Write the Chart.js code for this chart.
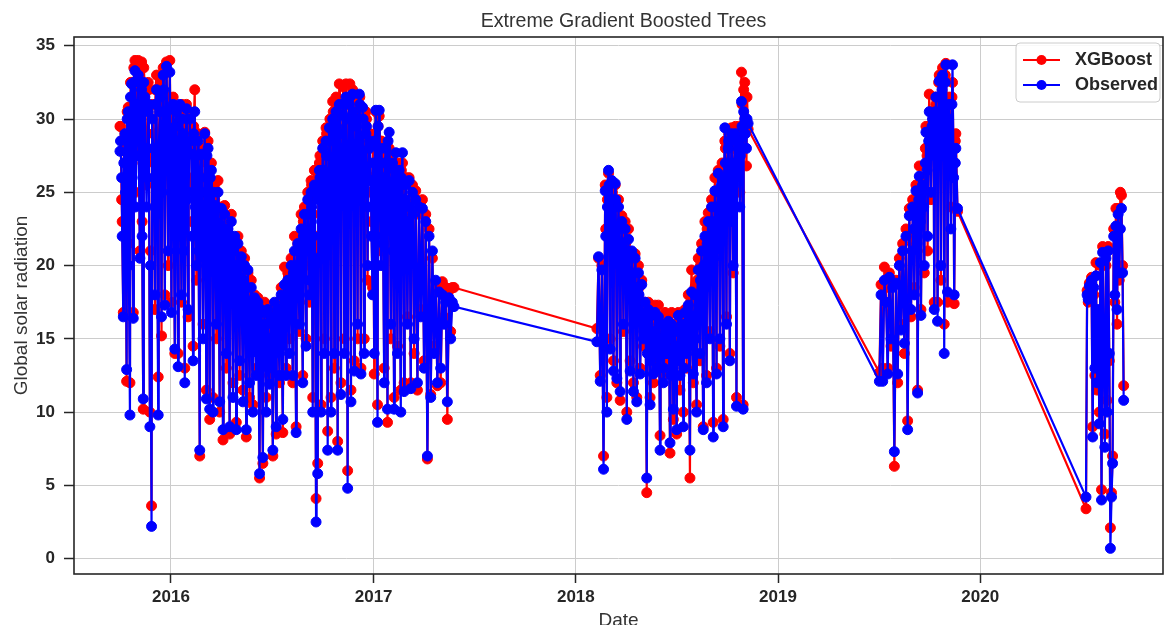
<!DOCTYPE html>
<html>
<head>
<meta charset="utf-8">
<script src="https://cdn.jsdelivr.net/npm/chart.js@4.4.1/dist/chart.umd.min.js"></script>
<style>
  html, body { margin: 0; padding: 0; background: #ffffff; overflow: hidden; }
  canvas { display: block; }
</style>
</head>
<body>
<canvas id="chart" width="1165" height="625"></canvas>
<script>
// Daily global solar radiation: observed values and XGBoost predictions
const chartTitle = 'Extreme Gradient Boosted Trees';
const xTitle = 'Date';
const yTitle = 'Global solar radiation';
const seriesLabels = ['XGBoost', 'Observed'];
const yearTicks = [2016, 2017, 2018, 2019, 2020];
const yTicks = [0, 5, 10, 15, 20, 25, 30, 35];
const xRange = ['2015-07-10', '2020-11-26'];
const yRange = [-1.05, 35.6];

// First set of readings
const dates1 = [
  '2015-10-01','2015-10-04','2015-10-07','2015-10-10','2015-10-13','2015-10-16','2015-10-19','2015-10-22','2015-10-25','2015-10-28','2015-10-31',
  '2015-11-03','2015-11-06','2015-11-09','2015-11-12','2015-11-15','2015-11-18','2015-11-21','2015-11-24','2015-11-27','2015-11-30',
  '2015-12-03','2015-12-06','2015-12-09','2015-12-12','2015-12-15','2015-12-18','2015-12-21','2015-12-24','2015-12-27','2015-12-30',
  '2016-01-02','2016-01-05','2016-01-08','2016-01-11','2016-01-14','2016-01-17','2016-01-20','2016-01-23','2016-01-26','2016-01-29',
  '2016-02-01','2016-02-04','2016-02-07','2016-02-10','2016-02-13','2016-02-16','2016-02-19','2016-02-22','2016-02-25','2016-02-28',
  '2016-03-02','2016-03-05','2016-03-08','2016-03-11','2016-03-14','2016-03-17','2016-03-20','2016-03-23','2016-03-26','2016-03-29',
  '2016-04-01','2016-04-04','2016-04-07','2016-04-10','2016-04-13','2016-04-16','2016-04-19','2016-04-22','2016-04-25','2016-04-28',
  '2016-05-01','2016-05-04','2016-05-07','2016-05-10','2016-05-13','2016-05-16','2016-05-19','2016-05-22','2016-05-25','2016-05-28','2016-05-31',
  '2016-06-03','2016-06-06','2016-06-09','2016-06-12','2016-06-15','2016-06-18','2016-06-21','2016-06-24','2016-06-27','2016-06-30',
  '2016-07-03','2016-07-06','2016-07-09','2016-07-12','2016-07-15','2016-07-18','2016-07-21','2016-07-24','2016-07-27','2016-07-30',
  '2016-08-02','2016-08-05','2016-08-08','2016-08-11','2016-08-14','2016-08-17','2016-08-20','2016-08-23','2016-08-26','2016-08-29',
  '2016-09-01','2016-09-04','2016-09-07','2016-09-10','2016-09-13','2016-09-16','2016-09-19','2016-09-22','2016-09-25','2016-09-28',
  '2016-10-01','2016-10-04','2016-10-07','2016-10-10','2016-10-13','2016-10-16','2016-10-19','2016-10-22','2016-10-25','2016-10-28','2016-10-31',
  '2016-11-03','2016-11-06','2016-11-09','2016-11-12','2016-11-15','2016-11-18','2016-11-21','2016-11-24','2016-11-27','2016-11-30',
  '2016-12-03','2016-12-06','2016-12-09','2016-12-12','2016-12-15','2016-12-18','2016-12-21','2016-12-24','2016-12-27','2016-12-30',
  '2017-01-02','2017-01-05','2017-01-08','2017-01-11','2017-01-14','2017-01-17','2017-01-20','2017-01-23','2017-01-26','2017-01-29',
  '2017-02-01','2017-02-04','2017-02-07','2017-02-10','2017-02-13','2017-02-16','2017-02-19','2017-02-22','2017-02-25','2017-02-28',
  '2017-03-03','2017-03-06','2017-03-09','2017-03-12','2017-03-15','2017-03-18','2017-03-21','2017-03-24','2017-03-27','2017-03-30',
  '2017-04-02','2017-04-05','2017-04-08','2017-04-11','2017-04-14','2017-04-17','2017-04-20','2017-04-23','2017-04-26','2017-04-29',
  '2017-05-02','2017-05-05','2017-05-08','2017-05-11','2017-05-14','2017-05-17','2017-05-20','2017-05-23','2017-05-26',
  '2018-02-08','2018-02-11','2018-02-14','2018-02-17','2018-02-20','2018-02-23','2018-02-26',
  '2018-03-01','2018-03-04','2018-03-07','2018-03-10','2018-03-13','2018-03-16','2018-03-19','2018-03-22','2018-03-25','2018-03-28','2018-03-31',
  '2018-04-03','2018-04-06','2018-04-09','2018-04-12','2018-04-15','2018-04-18','2018-04-21','2018-04-24','2018-04-27','2018-04-30',
  '2018-05-03','2018-05-06','2018-05-09','2018-05-12','2018-05-15','2018-05-18','2018-05-21','2018-05-24','2018-05-27','2018-05-30',
  '2018-06-02','2018-06-05','2018-06-08','2018-06-11','2018-06-14','2018-06-17','2018-06-20','2018-06-23','2018-06-26','2018-06-29',
  '2018-07-02','2018-07-05','2018-07-08','2018-07-11','2018-07-14','2018-07-17','2018-07-20','2018-07-23','2018-07-26','2018-07-29',
  '2018-08-01','2018-08-04','2018-08-07','2018-08-10','2018-08-13','2018-08-16','2018-08-19','2018-08-22','2018-08-25','2018-08-28','2018-08-31',
  '2018-09-03','2018-09-06','2018-09-09','2018-09-12','2018-09-15','2018-09-18','2018-09-21','2018-09-24','2018-09-27','2018-09-30',
  '2018-10-03','2018-10-06','2018-10-09','2018-10-12','2018-10-15','2018-10-18','2018-10-21','2018-10-24','2018-10-27','2018-10-30',
  '2018-11-02','2018-11-05','2018-11-08',
  '2019-07-03','2019-07-06','2019-07-09','2019-07-12','2019-07-15','2019-07-18','2019-07-21','2019-07-24','2019-07-27','2019-07-30',
  '2019-08-02','2019-08-05','2019-08-08','2019-08-11','2019-08-14','2019-08-17','2019-08-20','2019-08-23','2019-08-26','2019-08-29',
  '2019-09-01','2019-09-04','2019-09-07','2019-09-10','2019-09-13','2019-09-16','2019-09-19','2019-09-22','2019-09-25','2019-09-28',
  '2019-10-01','2019-10-04','2019-10-07','2019-10-10','2019-10-13','2019-10-16','2019-10-19','2019-10-22','2019-10-25','2019-10-28','2019-10-31',
  '2019-11-03','2019-11-06','2019-11-09','2019-11-12','2019-11-15','2019-11-18','2019-11-21',
  '2020-07-10','2020-07-12','2020-07-14','2020-07-16','2020-07-18','2020-07-20','2020-07-22','2020-07-24','2020-07-26','2020-07-28','2020-07-30',
  '2020-08-01','2020-08-03','2020-08-05','2020-08-07','2020-08-09','2020-08-11','2020-08-13','2020-08-15','2020-08-17','2020-08-19','2020-08-21','2020-08-23','2020-08-25','2020-08-27','2020-08-29','2020-08-31',
  '2020-09-02','2020-09-04','2020-09-06','2020-09-08','2020-09-10','2020-09-12','2020-09-14','2020-09-16'
];

const observed1 = [
  27.8, 26.0, 16.5, 29.0, 12.9, 30.5, 9.8, 32.4, 16.4, 33.3, 28.5,
  33.0, 20.5, 32.0, 10.9, 31.5, 24.0, 30.5, 9.0, 2.2, 28.0,
  18.0, 32.0, 9.8, 30.5, 16.5, 33.0, 17.3, 33.6, 21.0, 33.2,
  16.8, 31.0, 14.3, 30.5, 13.1, 31.0, 18.0, 29.0, 12.0, 30.7,
  17.0, 30.0, 27.6, 13.5, 30.5, 20.0, 28.5, 7.4, 27.6, 15.0,
  29.0, 10.9, 28.0, 10.2, 26.5, 10.0, 24.1, 16.0, 25.0, 10.7,
  23.9, 8.8, 23.5, 14.0, 22.5, 9.0, 23.0, 11.0, 22.0, 8.8,
  21.5, 13.5, 20.6, 10.7, 20.0, 8.8, 19.7, 12.0, 18.5, 10.0, 17.8,
  12.5, 17.5, 5.8, 17.0, 6.9, 16.8, 10.0, 17.0, 11.9, 16.4,
  7.4, 17.5, 9.0, 17.0, 12.5, 18.0, 9.5, 18.7, 12.5, 19.0,
  14.0, 20.0, 12.5, 21.0, 8.6, 21.5, 16.0, 22.5, 12.0, 23.5,
  14.5, 24.5, 18.0, 25.0, 10.0, 25.5, 2.5, 5.8, 26.5, 10.0,
  28.0, 14.0, 28.5, 7.4, 29.4, 10.0, 30.0, 14.0, 30.5, 7.4, 31.0,
  11.2, 30.3, 14.0, 31.5, 4.8, 31.0, 10.7, 31.7, 12.8, 30.0,
  16.0, 31.7, 12.6, 30.8, 14.0, 29.0, 20.0, 28.0, 25.8, 18.0,
  14.0, 30.6, 9.3, 30.6, 20.0, 26.0, 12.0, 28.0, 10.2, 29.1,
  16.0, 27.0, 10.2, 27.7, 14.0, 26.5, 10.0, 27.7, 11.4, 25.5,
  16.0, 25.8, 11.6, 25.0, 15.0, 24.5, 12.0, 24.0, 16.5, 23.9,
  13.0, 23.0, 7.0, 22.0, 11.0, 21.0, 14.0, 19.0, 12.0, 18.2,
  13.0, 18.0, 16.0, 17.5, 10.7, 17.8, 15.0, 17.5, 17.2,
  14.8, 20.6, 12.1, 19.7, 6.1, 25.1, 10.0,
  26.5, 14.3, 25.8, 12.8, 25.6, 12.3, 24.0, 11.4, 23.0, 16.0, 22.5,
  9.5, 21.8, 12.8, 21.0, 11.4, 20.5, 10.7, 19.5, 12.6, 18.7,
  15.0, 17.5, 5.5, 17.0, 10.5, 16.6, 12.6, 16.8, 13.0, 16.5,
  7.4, 16.0, 12.0, 15.9, 14.0, 16.2, 7.9, 16.0, 10.2, 15.5,
  8.8, 16.6, 12.5, 15.4, 9.0, 16.8, 14.0, 17.3, 7.4, 18.2,
  12.6, 18.0, 10.0, 19.7, 14.0, 21.0, 8.8, 22.0, 12.0, 23.0, 15.0,
  24.0, 8.3, 25.1, 12.6, 26.3, 15.0, 25.5, 9.0, 29.4, 16.0,
  28.0, 13.5, 29.0, 20.0, 28.5, 10.4, 28.0, 24.0, 31.2, 10.2,
  30.0, 28.0, 29.7,
  12.1, 18.0, 12.1, 19.0, 17.5, 12.6, 19.2, 15.0, 18.5, 7.3,
  18.8, 12.6, 20.0, 15.6, 21.0, 14.7, 22.0, 8.8, 23.4, 17.0,
  24.0, 18.0, 25.1, 11.3, 26.1, 16.6, 25.5, 20.0, 29.1, 22.0,
  30.5, 25.0, 30.0, 17.0, 31.5, 16.2, 32.6, 20.0, 33.0, 14.0, 33.7,
  18.2, 31.0, 22.5, 33.7, 18.0, 28.0, 23.9,
  4.2, 18.0, 17.7, 18.6, 18.2, 19.0, 8.3, 18.5, 13.0, 19.3, 12.0,
  17.0, 9.2, 20.2, 4.0, 20.9, 15.0, 7.6, 20.5, 10.0, 21.0, 14.0, 0.7, 4.2, 6.5, 22.0, 18.0,
  22.7, 17.0, 23.5, 19.5, 22.5, 23.9, 19.5, 10.8
];

const xgboost1 = [
  29.5, 24.5, 16.8, 28.5, 12.1, 30.8, 12.0, 32.5, 16.8, 34.0, 30.0,
  34.0, 21.0, 33.9, 10.2, 32.0, 25.5, 32.5, 10.0, 3.6, 29.0,
  17.0, 33.0, 12.4, 31.0, 15.2, 33.5, 18.0, 33.9, 20.0, 34.0,
  17.5, 31.5, 14.0, 30.0, 14.0, 30.5, 17.5, 30.0, 13.0, 31.0,
  16.5, 30.5, 28.0, 14.5, 32.0, 19.0, 29.0, 7.0, 28.0, 16.0,
  29.1, 11.5, 28.5, 9.5, 27.0, 11.0, 24.5, 15.0, 25.8, 10.0,
  24.0, 8.1, 24.1, 13.0, 23.0, 8.5, 23.5, 12.0, 21.7, 9.3,
  22.0, 12.5, 21.0, 11.5, 20.5, 8.3, 19.5, 11.0, 19.0, 10.5, 18.0,
  13.0, 17.8, 5.5, 17.3, 6.5, 17.5, 11.0, 16.5, 12.5, 17.0,
  7.0, 17.0, 8.5, 17.5, 12.0, 18.5, 8.6, 19.9, 13.0, 19.5,
  15.0, 20.5, 12.0, 22.0, 9.0, 21.5, 15.5, 23.5, 12.5, 24.0,
  15.0, 25.0, 17.5, 25.8, 11.0, 26.5, 4.1, 6.5, 27.0, 10.5,
  28.5, 15.0, 29.4, 8.7, 29.5, 11.0, 31.2, 13.0, 31.5, 8.0, 32.4,
  12.0, 31.0, 15.0, 32.4, 6.0, 31.5, 11.5, 32.0, 13.5, 31.0,
  15.0, 31.0, 13.0, 30.5, 15.0, 30.5, 19.0, 29.0, 26.0, 18.5,
  12.6, 30.5, 10.5, 30.2, 21.0, 27.0, 13.0, 27.5, 9.3, 28.0,
  15.0, 27.5, 11.0, 26.5, 14.5, 27.0, 11.5, 27.0, 12.0, 26.0,
  16.5, 26.0, 12.0, 25.5, 14.0, 25.1, 11.5, 23.5, 17.0, 24.5,
  13.5, 23.5, 6.8, 22.5, 11.2, 20.5, 14.5, 18.9, 11.8, 18.5,
  12.0, 18.9, 16.5, 18.5, 9.5, 18.3, 15.5, 18.5, 18.5,
  15.7, 20.5, 12.5, 20.0, 7.0, 25.5, 11.0,
  26.3, 15.0, 25.5, 13.5, 25.5, 12.0, 24.5, 10.8, 23.4, 15.5, 23.0,
  10.0, 22.5, 13.5, 20.8, 12.0, 20.8, 11.0, 20.0, 13.0, 19.0,
  14.5, 17.5, 4.5, 17.5, 11.0, 16.8, 12.0, 17.3, 13.5, 17.3,
  8.4, 16.5, 12.5, 16.8, 13.5, 16.5, 7.2, 16.8, 9.5, 16.0,
  8.5, 16.8, 11.5, 16.0, 10.0, 17.0, 13.0, 18.0, 5.5, 19.7,
  12.0, 18.5, 10.5, 20.5, 13.5, 21.5, 9.0, 23.0, 12.5, 23.6, 15.5,
  24.5, 9.3, 26.0, 13.0, 26.5, 14.5, 26.0, 9.5, 28.5, 16.5,
  28.5, 14.0, 29.4, 19.5, 28.0, 11.0, 28.5, 25.0, 33.2, 10.5,
  32.5, 26.8, 29.3,
  12.7, 18.7, 13.0, 19.9, 18.5, 13.0, 19.5, 14.5, 19.0, 6.3,
  19.0, 12.0, 20.5, 16.0, 21.5, 14.0, 22.5, 9.4, 23.9, 16.5,
  24.5, 18.5, 25.5, 11.5, 26.8, 17.0, 26.0, 19.5, 29.5, 21.0,
  31.7, 24.5, 30.5, 17.5, 31.0, 17.5, 33.0, 19.0, 33.5, 16.0, 33.8,
  17.5, 31.5, 24.0, 32.5, 17.4, 29.0, 23.7,
  3.4, 18.3, 17.5, 18.8, 18.5, 19.2, 9.0, 18.0, 12.5, 20.2, 11.5,
  16.5, 10.0, 20.0, 4.7, 21.3, 14.5, 8.5, 20.0, 10.8, 21.3, 13.5, 2.1, 4.5, 7.0, 22.5, 17.5,
  23.9, 16.0, 23.9, 19.0, 25.0, 24.8, 20.0, 11.8
];

// Second set of readings, on the days in between
const dates2 = [
  '2015-10-02','2015-10-05','2015-10-08','2015-10-11','2015-10-14','2015-10-17','2015-10-20','2015-10-23','2015-10-26','2015-10-29',
  '2015-11-01','2015-11-04','2015-11-07','2015-11-10','2015-11-13','2015-11-16','2015-11-19','2015-11-22','2015-11-25','2015-11-28',
  '2015-12-01','2015-12-04','2015-12-07','2015-12-10','2015-12-13','2015-12-16','2015-12-19','2015-12-22','2015-12-25','2015-12-28','2015-12-31',
  '2016-01-03','2016-01-06','2016-01-09','2016-01-12','2016-01-15','2016-01-18','2016-01-21','2016-01-24','2016-01-27','2016-01-30',
  '2016-02-02','2016-02-05','2016-02-08','2016-02-11','2016-02-14','2016-02-17','2016-02-20','2016-02-23','2016-02-26',
  '2016-03-03','2016-03-06','2016-03-09','2016-03-12','2016-03-15','2016-03-18','2016-03-21','2016-03-24','2016-03-27','2016-03-30',
  '2016-04-02','2016-04-05','2016-04-08','2016-04-11','2016-04-14','2016-04-17','2016-04-20','2016-04-23','2016-04-26','2016-04-29',
  '2016-05-02','2016-05-05','2016-05-08','2016-05-11','2016-05-14','2016-05-17','2016-05-20','2016-05-23','2016-05-26','2016-05-29',
  '2016-06-01','2016-06-04','2016-06-07','2016-06-10','2016-06-13','2016-06-16','2016-06-19','2016-06-22','2016-06-25','2016-06-28',
  '2016-07-01','2016-07-04','2016-07-07','2016-07-10','2016-07-13','2016-07-16','2016-07-19','2016-07-22','2016-07-25','2016-07-28','2016-07-31',
  '2016-08-03','2016-08-06','2016-08-09','2016-08-12','2016-08-15','2016-08-18','2016-08-21','2016-08-24','2016-08-27','2016-08-30',
  '2016-09-02','2016-09-05','2016-09-08','2016-09-11','2016-09-14','2016-09-17','2016-09-20','2016-09-23','2016-09-26','2016-09-29',
  '2016-10-02','2016-10-05','2016-10-08','2016-10-11','2016-10-14','2016-10-17','2016-10-20','2016-10-23','2016-10-26','2016-10-29',
  '2016-11-01','2016-11-04','2016-11-07','2016-11-10','2016-11-13','2016-11-16','2016-11-19','2016-11-22','2016-11-25','2016-11-28',
  '2016-12-01','2016-12-04','2016-12-07','2016-12-10','2016-12-13','2016-12-16','2016-12-19','2016-12-22','2016-12-25','2016-12-28','2016-12-31',
  '2017-01-03','2017-01-06','2017-01-09','2017-01-12','2017-01-15','2017-01-18','2017-01-21','2017-01-24','2017-01-27','2017-01-30',
  '2017-02-02','2017-02-05','2017-02-08','2017-02-11','2017-02-14','2017-02-17','2017-02-20','2017-02-23','2017-02-26',
  '2017-03-01','2017-03-04','2017-03-07','2017-03-10','2017-03-13',
  '2018-02-24','2018-02-27',
  '2018-03-02','2018-03-05','2018-03-08','2018-03-11','2018-03-14','2018-03-17','2018-03-20','2018-03-23','2018-03-26','2018-03-29',
  '2018-04-01','2018-04-04','2018-04-07','2018-04-10','2018-04-13','2018-04-16','2018-04-19','2018-04-22','2018-04-25',
  '2018-05-04','2018-05-07','2018-05-10','2018-05-13','2018-05-16','2018-05-19','2018-05-22','2018-05-25','2018-05-28','2018-05-31',
  '2018-06-03','2018-06-06','2018-06-09','2018-06-12','2018-06-15','2018-06-18','2018-06-21','2018-06-24','2018-06-27','2018-06-30',
  '2018-07-03','2018-07-06','2018-07-09','2018-07-12','2018-07-15','2018-07-18','2018-07-21','2018-07-24','2018-07-27','2018-07-30',
  '2018-08-02','2018-08-05','2018-08-08','2018-08-11','2018-08-14','2018-08-17','2018-08-20','2018-08-23','2018-08-26','2018-08-29',
  '2018-09-01','2018-09-04','2018-09-07','2018-09-10','2018-09-13','2018-09-16','2018-09-19','2018-09-22','2018-09-25','2018-09-28',
  '2018-10-01','2018-10-04','2018-10-07','2018-10-10','2018-10-13','2018-10-16','2018-10-19','2018-10-22','2018-10-25','2018-10-28','2018-10-31',
  '2018-11-03','2018-11-06',
  '2019-08-31',
  '2019-09-03','2019-09-06','2019-09-09','2019-09-12','2019-09-15','2019-09-18','2019-09-21','2019-09-24','2019-09-27','2019-09-30',
  '2019-10-03','2019-10-06','2019-10-09','2019-10-12','2019-10-15','2019-10-18','2019-10-21','2019-10-24','2019-10-27','2019-10-30',
  '2019-11-02','2019-11-05','2019-11-08','2019-11-11','2019-11-14','2019-11-17'
];

const observed2 = [
  28.5, 22.0, 27.0, 25.0, 30.0, 20.0, 31.5, 26.0, 32.5, 24.0,
  31.0, 27.5, 30.5, 22.0, 32.5, 28.0, 26.0, 31.0, 20.0, 30.0,
  26.0, 31.0, 23.5, 28.0, 31.5, 25.0, 32.0, 27.0, 30.5, 26.5, 29.0,
  27.0, 24.0, 29.5, 22.0, 28.5, 25.5, 30.0, 21.0, 28.0, 24.5,
  25.0, 28.5, 22.0, 29.0, 24.0, 27.5, 21.0, 26.0, 23.0,
  25.0, 27.5, 22.0, 26.0, 23.0, 25.0, 21.0, 24.0, 20.5, 22.5,
  21.0, 22.5, 19.5, 22.0, 18.5, 21.5, 20.0, 21.0, 17.5, 20.0,
  18.0, 20.0, 17.0, 19.0, 16.5, 18.5, 15.5, 17.5, 14.5, 17.0,
  15.5, 16.5, 14.0, 16.0, 13.5, 15.5, 14.5, 16.0, 13.0, 15.0,
  15.0, 16.5, 14.0, 16.0, 15.5, 17.0, 14.5, 17.0, 16.0, 18.0, 17.0,
  18.5, 17.0, 19.5, 18.0, 20.0, 19.0, 21.0, 20.0, 22.0, 21.0,
  21.0, 23.5, 19.0, 24.0, 22.0, 25.0, 20.5, 24.5, 26.0, 23.0,
  26.5, 24.0, 27.5, 22.5, 28.5, 25.0, 29.0, 26.5, 29.5, 27.0,
  29.0, 26.0, 31.0, 27.5, 30.0, 25.5, 31.5, 28.0, 30.5, 26.5,
  29.5, 27.0, 31.0, 25.5, 30.0, 26.0, 29.5, 24.0, 28.5, 22.0, 27.0,
  28.5, 22.0, 29.5, 24.5, 28.0, 21.5, 27.0, 23.5, 28.5, 25.0,
  25.0, 21.0, 26.5, 23.0, 25.5, 20.0, 26.0, 22.5, 24.5,
  23.0, 20.5, 24.0, 21.0, 23.5,
  22.0, 24.0,
  25.5, 23.5, 24.5, 22.0, 24.5, 21.5, 22.5, 20.5, 21.5, 20.0,
  21.0, 19.5, 20.5, 18.5, 19.5, 17.5, 18.5, 17.0, 18.0,
  15.5, 16.0, 14.0, 16.5, 13.5, 15.5, 14.0, 15.0, 13.0, 16.0,
  14.5, 15.0, 13.0, 15.5, 14.0, 15.0, 12.5, 15.5, 13.5, 14.5,
  13.5, 15.5, 14.0, 16.0, 13.0, 15.0, 16.0, 14.5, 16.5, 15.5,
  16.5, 15.0, 18.0, 16.5, 19.0, 17.5, 20.0, 18.5, 21.5, 20.0,
  21.0, 23.0, 20.5, 24.0, 22.5, 25.0, 23.0, 26.0, 24.5, 27.0,
  25.0, 28.5, 23.0, 27.0, 25.5, 29.0, 26.0, 28.5, 27.5, 29.5, 30.5,
  29.0, 30.0,
  21.0,
  22.5, 23.5, 21.5, 24.5, 23.0, 25.0, 24.0, 27.0, 26.5, 28.5,
  27.5, 29.5, 28.0, 30.5, 29.0, 31.5, 30.0, 32.0, 30.5, 32.5,
  29.0, 30.0, 27.5, 31.0, 26.0, 27.0
];

const xgboost2 = [
  29.5, 23.0, 28.0, 26.0, 30.5, 21.5, 32.5, 27.0, 33.5, 25.0,
  32.0, 28.0, 31.5, 23.0, 33.5, 29.0, 27.5, 32.0, 21.0, 31.0,
  27.0, 32.0, 24.5, 29.0, 32.5, 26.0, 33.0, 28.0, 31.5, 27.5, 30.0,
  28.0, 25.0, 30.5, 23.0, 29.5, 26.5, 31.0, 22.0, 29.0, 25.5,
  26.0, 29.5, 23.0, 29.5, 25.0, 28.0, 22.0, 27.0, 24.0,
  26.0, 28.0, 23.0, 26.5, 24.0, 25.5, 22.0, 25.0, 21.5, 23.5,
  22.0, 23.5, 20.5, 22.5, 19.5, 22.0, 21.0, 21.5, 18.5, 21.0,
  19.0, 20.5, 18.0, 19.5, 17.5, 19.0, 16.5, 18.0, 15.5, 17.5,
  16.0, 17.0, 15.0, 16.5, 14.5, 16.5, 15.5, 16.5, 14.0, 16.0,
  16.0, 17.0, 15.0, 16.5, 16.5, 17.5, 15.5, 18.0, 17.0, 18.5, 18.0,
  19.5, 18.0, 20.5, 19.0, 21.0, 20.0, 22.0, 21.0, 23.0, 22.5,
  22.5, 24.5, 20.0, 25.5, 23.5, 26.5, 22.0, 26.0, 27.5, 24.5,
  28.0, 25.5, 29.0, 24.0, 30.0, 26.5, 30.5, 28.0, 31.0, 28.5,
  30.5, 27.5, 32.2, 29.0, 31.0, 27.0, 32.4, 29.5, 31.5, 28.0,
  30.5, 28.0, 31.5, 26.5, 30.5, 27.0, 30.0, 25.0, 29.0, 23.0, 28.0,
  29.0, 23.0, 29.5, 25.5, 28.5, 22.5, 27.5, 24.5, 28.0, 26.0,
  26.0, 22.0, 27.0, 24.0, 26.5, 21.0, 26.5, 23.5, 25.5,
  24.0, 21.5, 24.5, 22.0, 24.5,
  22.5, 24.5,
  25.0, 24.0, 25.0, 22.5, 24.0, 22.0, 23.0, 21.0, 22.0, 20.5,
  21.5, 20.0, 21.0, 19.0, 20.0, 18.0, 19.0, 17.5, 18.5,
  16.5, 16.5, 15.0, 17.0, 14.5, 16.0, 15.0, 16.0, 14.0, 16.5,
  15.5, 16.0, 14.0, 16.0, 15.0, 16.0, 13.5, 16.0, 14.5, 15.5,
  14.5, 16.0, 15.0, 16.5, 14.0, 16.0, 17.0, 15.5, 17.5, 16.5,
  17.5, 16.0, 19.0, 17.5, 20.0, 18.5, 21.0, 19.5, 22.5, 21.0,
  22.5, 24.0, 21.5, 25.0, 23.5, 26.0, 24.0, 27.0, 25.5, 28.0,
  26.0, 29.0, 24.0, 28.0, 26.5, 29.5, 27.0, 29.5, 28.5, 31.0, 32.0,
  30.0, 31.5,
  22.0,
  23.5, 24.5, 22.5, 25.5, 24.0, 26.0, 25.5, 28.0, 27.5, 29.5,
  28.5, 30.5, 29.0, 31.5, 30.0, 32.5, 31.0, 33.0, 31.5, 33.0,
  30.0, 31.0, 28.5, 31.5, 27.0, 28.5
];

const FONT = '"Liberation Sans", Arial, Helvetica, sans-serif';
const TEXT = '#262626';
const SPINE = '#262626';
const GRID = '#cccccc';
const COLORS = ['#ff0000', '#0000ff'];

const toTime = s => { const p = s.split('-'); return Date.UTC(+p[0], +p[1] - 1, +p[2]); };

// merge both sets of readings into one time-ordered series
const allDates = dates1.concat(dates2);
const allObserved = observed1.concat(observed2);
const allXgboost = xgboost1.concat(xgboost2);
const idx = allDates.map((_, i) => i).sort((a, b) => toTime(allDates[a]) - toTime(allDates[b]));
const xgbPoints = idx.map(i => ({ x: toTime(allDates[i]), y: allXgboost[i] }));
const obsPoints = idx.map(i => ({ x: toTime(allDates[i]), y: allObserved[i] }));

// Title, full frame and an inset legend drawn on top of the plot
const decorations = {
  id: 'decorations',
  afterDatasetsDraw(chart) {
    const { ctx, chartArea: a } = chart;
    ctx.save();
    ctx.strokeStyle = SPINE;
    ctx.lineWidth = 1.6;
    ctx.strokeRect(a.left, a.top, a.right - a.left, a.bottom - a.top);

    // legend box
    const w = 144, h = 59;
    const bx = a.right - 3 - w, by = a.top + 6;
    ctx.beginPath();
    ctx.roundRect(bx, by, w, h, 4);
    ctx.fillStyle = 'rgba(255,255,255,0.85)';
    ctx.fill();
    ctx.strokeStyle = '#cccccc';
    ctx.lineWidth = 1;
    ctx.stroke();

    chart.data.datasets.forEach((ds, i) => {
      const cy = by + 17 + i * 25;
      ctx.strokeStyle = ds.borderColor;
      ctx.lineWidth = 2;
      ctx.beginPath();
      ctx.moveTo(bx + 7, cy);
      ctx.lineTo(bx + 44, cy);
      ctx.stroke();
      ctx.fillStyle = ds.backgroundColor;
      ctx.beginPath();
      ctx.arc(bx + 25.5, cy, 5, 0, Math.PI * 2);
      ctx.fill();
      ctx.fillStyle = TEXT;
      ctx.font = 'bold 18px ' + FONT;
      ctx.textAlign = 'left';
      ctx.textBaseline = 'middle';
      ctx.fillText(ds.label, bx + 59, cy + 0.5);
    });

    // chart title above the plot area
    ctx.fillStyle = '#333333';
    ctx.font = '19.6px ' + FONT;
    ctx.textAlign = 'center';
    ctx.textBaseline = 'middle';
    ctx.fillText(chartTitle, (a.left + a.right) / 2 + 5, 21.5);
    ctx.restore();
  }
};

new Chart(document.getElementById('chart'), {
  type: 'line',
  data: {
    datasets: [
      {
        label: seriesLabels[0], data: xgbPoints, order: 1,
        borderColor: COLORS[0], backgroundColor: COLORS[0],
        pointBackgroundColor: COLORS[0], pointBorderColor: COLORS[0],
        borderWidth: 2.2, pointRadius: 5, pointBorderWidth: 1, tension: 0
      },
      {
        label: seriesLabels[1], data: obsPoints, order: 0,
        borderColor: COLORS[1], backgroundColor: COLORS[1],
        pointBackgroundColor: COLORS[1], pointBorderColor: COLORS[1],
        borderWidth: 2.2, pointRadius: 5, pointBorderWidth: 1, tension: 0
      }
    ]
  },
  options: {
    responsive: false,
    animation: false,
    parsing: false,
    layout: { autoPadding: false, padding: { top: 37, right: 2, left: 0, bottom: 0 } },
    plugins: {
      legend: { display: false },
      title: { display: false },
      tooltip: { enabled: false }
    },
    scales: {
      x: {
        type: 'linear',
        min: toTime(xRange[0]),
        max: toTime(xRange[1]),
        afterBuildTicks: s => { s.ticks = yearTicks.map(y => ({ value: Date.UTC(y, 0, 1) })); },
        afterFit: s => { s.height = 51; },
        ticks: {
          callback: v => String(new Date(v).getUTCFullYear()),
          font: { family: FONT, size: 17, weight: 'bold' },
          color: TEXT, padding: 4, maxRotation: 0, autoSkip: false
        },
        grid: { color: GRID, lineWidth: 1, tickColor: SPINE, tickLength: 9, tickWidth: 1.5 },
        border: { display: false },
        title: {
          display: true, text: xTitle, color: '#333333',
          font: { family: FONT, size: 19 }, padding: { top: 0, bottom: -7.4 }
        }
      },
      y: {
        min: yRange[0],
        max: yRange[1],
        afterBuildTicks: s => { s.ticks = yTicks.map(v => ({ value: v })); },
        afterFit: s => { s.width = 74; },
        ticks: {
          font: { family: FONT, size: 17, weight: 'bold' },
          color: TEXT, padding: 9
        },
        grid: { color: GRID, lineWidth: 1, tickColor: SPINE, tickLength: 10, tickWidth: 1.5 },
        border: { display: false },
        title: {
          display: true, text: yTitle, color: '#333333',
          font: { family: FONT, size: 19 }, padding: { top: 10, bottom: 0 }
        }
      }
    }
  },
  plugins: [decorations]
});
</script>
</body>
</html>
